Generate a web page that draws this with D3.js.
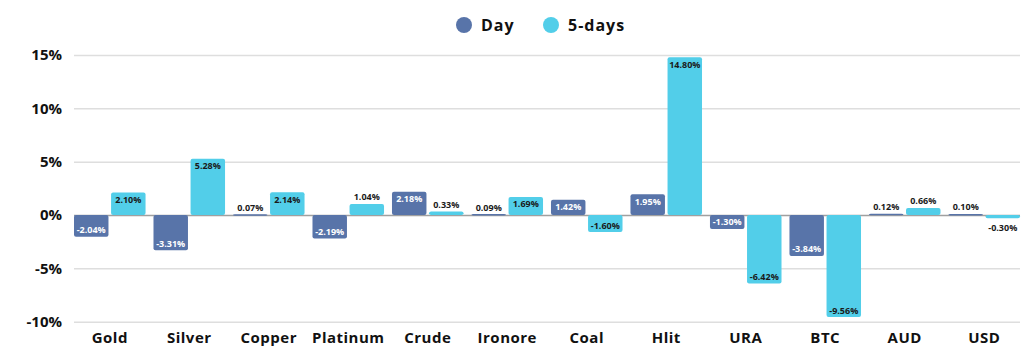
<!DOCTYPE html>
<html><head><meta charset="utf-8">
<script src="https://cdn.jsdelivr.net/npm/d3@7"></script>
<style>body{margin:0;background:#fff}svg{display:block}text{font-family:"Open Sans",sans-serif}</style>
</head><body><svg id="c" width="1024" height="359"></svg>
<script>
const categories = ["Gold","Silver","Copper","Platinum","Crude","Ironore","Coal","Hlit","URA","BTC","AUD","USD"];
const seriesNames = ["Day","5-days"];
const dayValues = [-2.04,-3.31,0.07,-2.19,2.18,0.09,1.42,1.95,-1.30,-3.84,0.12,0.10];
const fiveDayValues = [2.10,5.28,2.14,1.04,0.33,1.69,-1.60,14.80,-6.42,-9.56,0.66,-0.30];
const yTicks = [-10,-5,0,5,10,15];
const colors = ["#5874a9","#52cee9"];
const labelColors = ["#ffffff","#1a1a1a"];

const svg = d3.select("#c");
const x0 = d3.scaleBand().domain(categories).range([74,1020]).paddingInner(0.1).paddingOuter(0);
const x1 = d3.scaleBand().domain(seriesNames).range([0,x0.bandwidth()]).paddingInner(0.07);
const y = d3.scaleLinear().domain([-10,15]).range([321.7,55]);

// grid
const yAxis = d3.axisLeft(y).tickValues(yTicks).tickSize(-(1020-74)).tickFormat(d=>d+"%");
const gy = svg.append("g").attr("transform","translate(74,0)").call(yAxis);
gy.select(".domain").remove();
gy.selectAll(".tick line").attr("stroke",d=>d===0?"#a0a0a0":"#dedede").attr("stroke-width",1.5);
gy.selectAll(".tick text").attr("x",-12).attr("font-size",15).attr("font-weight",700).attr("fill","#111");

// x axis labels
const xAxis = d3.axisBottom(x0).tickSize(0);
const gx = svg.append("g").attr("transform","translate(0,329)").call(xAxis);
gx.select(".domain").remove();
gx.selectAll(".tick text").attr("dy","0.71em").attr("font-size",15).attr("font-weight",700)
  .attr("letter-spacing",0.5).attr("fill","#111");

const data = categories.map((c,i)=>({cat:c, vals:[dayValues[i],fiveDayValues[i]]}));
const groups = svg.append("g").selectAll("g").data(data).join("g")
  .attr("transform",d=>`translate(${x0(d.cat)},0)`);

groups.selectAll("rect").data(d=>d.vals.map((v,k)=>({v,k}))).join("rect")
  .attr("x",d=>x1(seriesNames[d.k]))
  .attr("width",x1.bandwidth())
  .attr("y",d=>Math.min(y(d.v),y(0)))
  .attr("height",d=>Math.max(1.5,Math.abs(y(d.v)-y(0))))
  .attr("rx",2)
  .attr("fill",d=>colors[d.k]);

groups.selectAll("text").data(d=>d.vals.map((v,k)=>({v,k}))).join("text")
  .attr("x",d=>x1(seriesNames[d.k])+x1.bandwidth()/2)
  .attr("y",d=>{
    const inside = Math.abs(d.v)>=1.2;
    if(d.v>=0) return inside ? y(d.v)+7 : y(d.v)-7;
    return inside ? y(d.v)-7 : y(d.v)+9;
  })
  .attr("text-anchor","middle").attr("dominant-baseline","central")
  .attr("font-size",9).attr("font-weight",700)
  .attr("fill",d=>Math.abs(d.v)>=1.2?labelColors[d.k]:"#1a1a1a")
  .text(d=>d.v.toFixed(2)+"%");

// legend
const legend = svg.append("g");
const lx = [464,551];
seriesNames.forEach((s,k)=>{
  legend.append("circle").attr("cx",lx[k]).attr("cy",25).attr("r",8).attr("fill",colors[k]);
  legend.append("text").attr("x",lx[k]+17).attr("y",25).attr("dominant-baseline","central")
    .attr("font-size",16).attr("font-weight",700).attr("letter-spacing",1).attr("fill","#111").text(s);
});
</script></body></html>
